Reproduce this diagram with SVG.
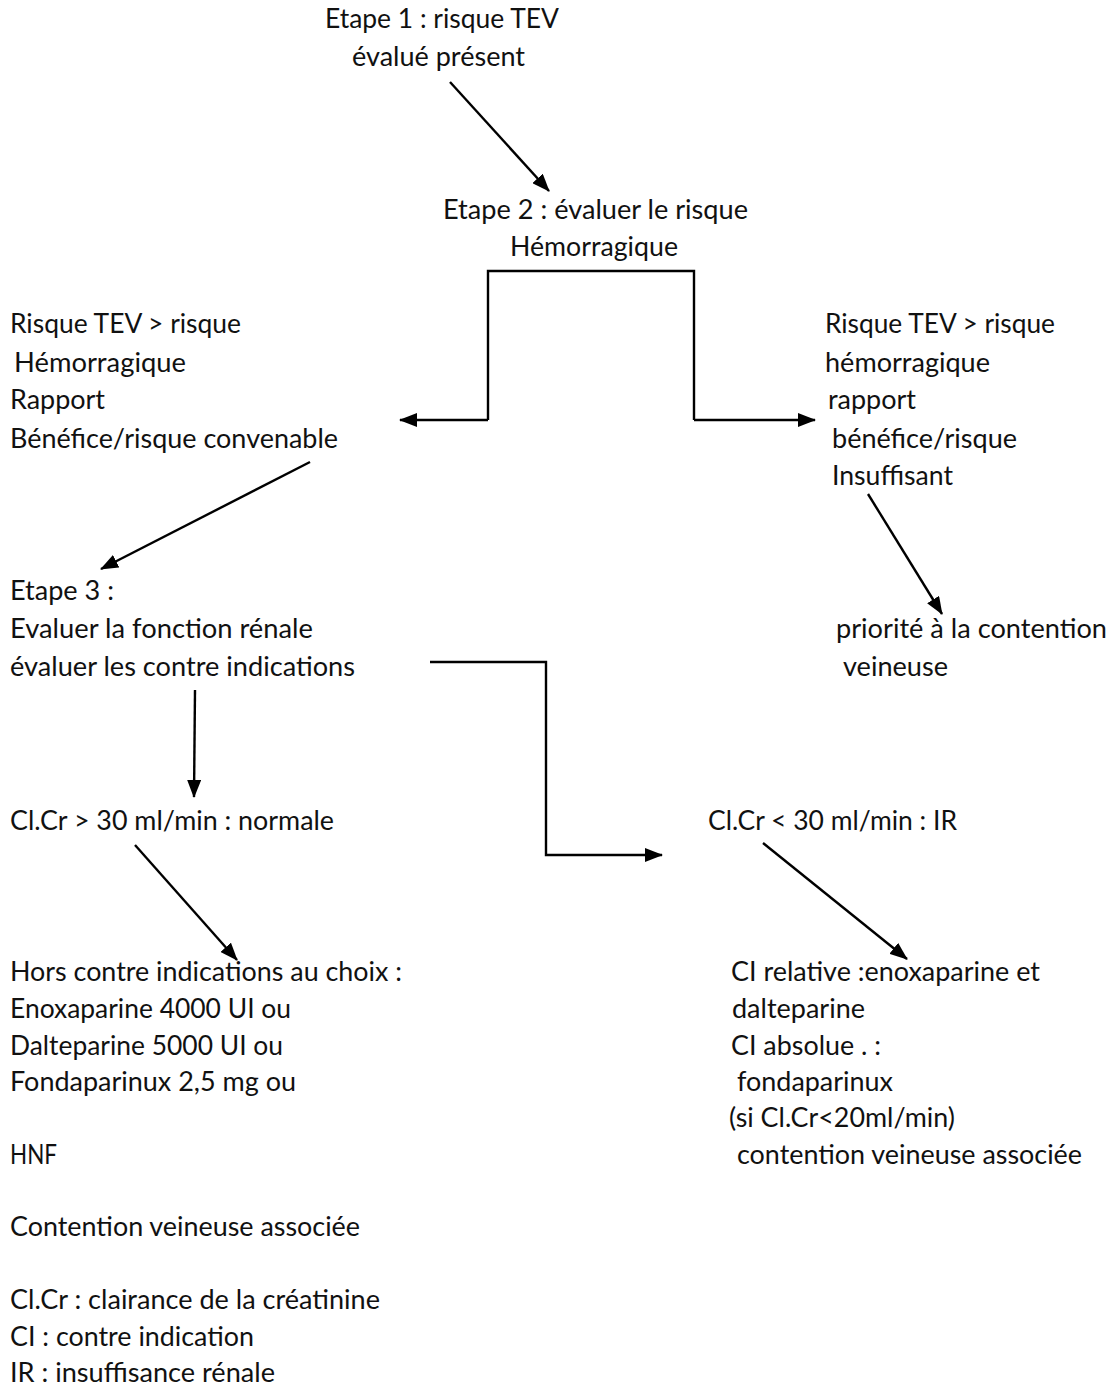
<svg xmlns="http://www.w3.org/2000/svg" width="1116" height="1388" viewBox="0 0 1116 1388">
<defs>
<marker id="ah" viewBox="0 0 18 14" refX="17" refY="7" markerWidth="18" markerHeight="14" markerUnits="userSpaceOnUse" orient="auto">
<path d="M0,0 L18,7 L0,14 Z" fill="#000"/>
</marker>
<style>
text{font-family:Lato,"Open Sans","Liberation Sans",sans-serif;font-size:27px;fill:#111}
.c{fill:none;stroke:#000;stroke-width:2.4}
</style>
</defs>
<rect width="1116" height="1388" fill="#fff"/>
<g id="connectors">
<path class="c" d="M450,82 L549,191" marker-end="url(#ah)"/>
<path class="c" d="M488,420 L488,271 L694,271 L694,420"/>
<path class="c" d="M488,420 L400,420" marker-end="url(#ah)"/>
<path class="c" d="M694,420 L815,420" marker-end="url(#ah)"/>
<path class="c" d="M310,462 L101,569" marker-end="url(#ah)"/>
<path class="c" d="M868,494 L942,614" marker-end="url(#ah)"/>
<path class="c" d="M195,690 L194,797" marker-end="url(#ah)"/>
<path class="c" d="M430,662 L546,662 L546,855 L662,855" marker-end="url(#ah)"/>
<path class="c" d="M135,845 L237,960" marker-end="url(#ah)"/>
<path class="c" d="M763,843 L907,959" marker-end="url(#ah)"/>
</g>
<g id="etape1">
<text x="325" y="28" textLength="234" lengthAdjust="spacingAndGlyphs">Etape 1 : risque TEV</text>
<text x="352" y="66" textLength="173" lengthAdjust="spacingAndGlyphs">évalué présent</text>
</g>
<g id="etape2">
<text x="443" y="219" textLength="305" lengthAdjust="spacingAndGlyphs">Etape 2 : évaluer le risque</text>
<text x="510" y="256" textLength="168" lengthAdjust="spacingAndGlyphs">Hémorragique</text>
</g>
<g id="left-branch">
<text x="10" y="333" textLength="231" lengthAdjust="spacingAndGlyphs">Risque TEV &gt; risque</text>
<text x="14" y="372" textLength="172" lengthAdjust="spacingAndGlyphs">Hémorragique</text>
<text x="10" y="409" textLength="95" lengthAdjust="spacingAndGlyphs">Rapport</text>
<text x="10" y="448" textLength="328" lengthAdjust="spacingAndGlyphs">Bénéfice/risque convenable</text>
</g>
<g id="right-branch">
<text x="825" y="333" textLength="230" lengthAdjust="spacingAndGlyphs">Risque TEV &gt; risque</text>
<text x="825" y="372" textLength="165" lengthAdjust="spacingAndGlyphs">hémorragique</text>
<text x="828" y="409" textLength="88" lengthAdjust="spacingAndGlyphs">rapport</text>
<text x="832" y="448" textLength="185" lengthAdjust="spacingAndGlyphs">bénéfice/risque</text>
<text x="832" y="485" textLength="121" lengthAdjust="spacingAndGlyphs">Insuffisant</text>
</g>
<g id="etape3">
<text x="10" y="600" textLength="104" lengthAdjust="spacingAndGlyphs">Etape 3 :</text>
<text x="10" y="638" textLength="303" lengthAdjust="spacingAndGlyphs">Evaluer la fonction rénale</text>
<text x="10" y="676" textLength="345" lengthAdjust="spacingAndGlyphs">évaluer les contre indications</text>
</g>
<g id="contention">
<text x="836" y="638" textLength="271" lengthAdjust="spacingAndGlyphs">priorité à la contention</text>
<text x="843" y="676" textLength="105" lengthAdjust="spacingAndGlyphs">veineuse</text>
</g>
<g id="clcr-normale">
<text x="10" y="830" textLength="324" lengthAdjust="spacingAndGlyphs">Cl.Cr &gt; 30 ml/min : normale</text>
</g>
<g id="clcr-ir">
<text x="708" y="830" textLength="249" lengthAdjust="spacingAndGlyphs">Cl.Cr &lt; 30 ml/min : IR</text>
</g>
<g id="traitement-normal">
<text x="10" y="981" textLength="392" lengthAdjust="spacingAndGlyphs">Hors contre indications au choix :</text>
<text x="10" y="1018" textLength="281" lengthAdjust="spacingAndGlyphs">Enoxaparine 4000 UI ou</text>
<text x="10" y="1055" textLength="273" lengthAdjust="spacingAndGlyphs">Dalteparine 5000 UI ou</text>
<text x="10" y="1091" textLength="286" lengthAdjust="spacingAndGlyphs">Fondaparinux 2,5 mg ou</text>
<text x="10" y="1164" textLength="47" lengthAdjust="spacingAndGlyphs">HNF</text>
<text x="10" y="1236" textLength="350" lengthAdjust="spacingAndGlyphs">Contention veineuse associée</text>
</g>
<g id="legende">
<text x="10" y="1309" textLength="370" lengthAdjust="spacingAndGlyphs">Cl.Cr : clairance de la créatinine</text>
<text x="10" y="1346" textLength="244" lengthAdjust="spacingAndGlyphs">CI : contre indication</text>
<text x="10" y="1382" textLength="265" lengthAdjust="spacingAndGlyphs">IR : insuffisance rénale</text>
</g>
<g id="traitement-ir">
<text x="731" y="981" textLength="309" lengthAdjust="spacingAndGlyphs">CI relative :enoxaparine et</text>
<text x="732" y="1018" textLength="133" lengthAdjust="spacingAndGlyphs">dalteparine</text>
<text x="731" y="1055" textLength="150" lengthAdjust="spacingAndGlyphs">CI absolue . :</text>
<text x="737" y="1091" textLength="156" lengthAdjust="spacingAndGlyphs">fondaparinux</text>
<text x="729" y="1127" textLength="226" lengthAdjust="spacingAndGlyphs">(si Cl.Cr&lt;20ml/min)</text>
<text x="737" y="1164" textLength="345" lengthAdjust="spacingAndGlyphs">contention veineuse associée</text>
</g>
</svg>
